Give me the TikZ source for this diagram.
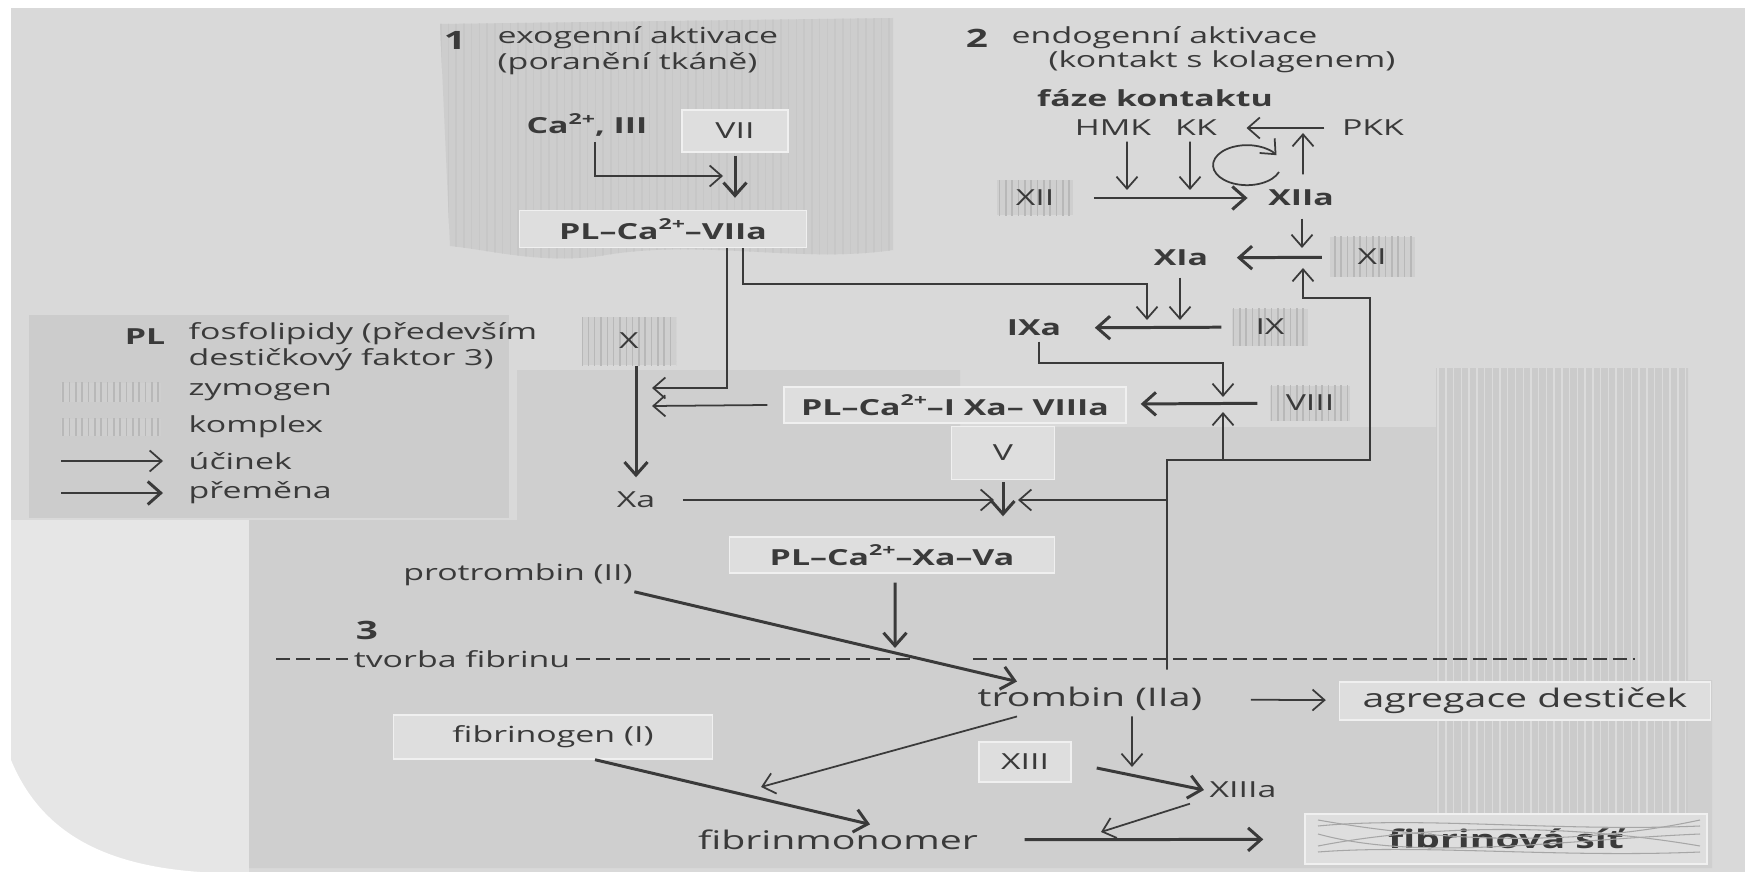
\documentclass[tikz,border=0pt]{standalone}
\usepackage{fontspec}
\setmainfont{Open Sans}[FakeStretch=1.53]
\usetikzlibrary{arrows.meta,patterns.meta}
\definecolor{ink}{HTML}{3A3A3A}
\definecolor{paper}{HTML}{D9D9D9}
\definecolor{paperlt}{HTML}{E6E6E6}
\definecolor{regone}{HTML}{CDCDCD}
\definecolor{regthree}{HTML}{CFCFCF}
\definecolor{regbox}{HTML}{CBCBCB}
\definecolor{legfill}{HTML}{CCCCCC}
\definecolor{zymofill}{HTML}{CFCFCF}
\definecolor{boxfill}{HTML}{DEDEDE}
\newcommand{\supr}[1]{\raisebox{0.42em}{\fontsize{4.3}{4.3}\selectfont #1}}

\begin{document}
\begin{tikzpicture}[x=0.1mm,y=-0.1mm,
  lbl/.style={inner sep=0.5mm,text=ink,font=\fontsize{6.3}{6.3}\selectfont},
  bfont/.style={font=\fontsize{6.3}{6.3}\selectfont\bfseries},
  bigfont/.style={font=\fontsize{7.3}{7.3}\selectfont},
  numlbl/.style={lbl,font=\fontsize{7.2}{7.2}\selectfont\bfseries},
  hatch/.style={postaction={pattern={Lines[angle=90,distance=2.2pt,line width=0.45pt]},pattern color=black!22}},
  zymo/.style={lbl,inner sep=0pt,preaction={fill=zymofill},pattern={Lines[angle=90,distance=1.8pt,line width=0.45pt]},pattern color=black!28},
  lbox/.style={lbl,fill=boxfill,draw=white!55!boxfill,line width=0.4pt,inner sep=0pt},
  effect/.style={draw=ink,line width=0.5pt,-{Straight Barb[length=1.2mm,width=2.1mm]}},
  conv/.style={draw=ink,line width=0.85pt,-{Straight Barb[length=1.3mm,width=2.3mm]}},
  dashline/.style={draw=ink,line width=0.5pt,dash pattern=on 1.4mm off 0.6mm}]
  \useasboundingbox (0,0) rectangle (1756,877);
  % paper and shaded regions (scan background)
  \fill[white] (0,0) rectangle (1756,877);
  \fill[paper] (11,8) rectangle (1745,872);
  \fill[paperlt] (11,520) rectangle (249,872);
  \fill[white] (11,760) .. controls (40,830) and (100,865) .. (200,872) -- (11,872) -- cycle;
  \fill[regthree] (249,868) -- (249,520) -- (517,520) -- (517,370) -- (960,370) -- (960,427)
    -- (1436,427) -- (1436,368) -- (1688,368) -- (1688,680) -- (1712,680) -- (1712,868) -- cycle;
  \fill[regbox,postaction={pattern={Lines[angle=90,distance=2.2pt,line width=0.4pt]},pattern color=black!14}] (1436,368) rectangle (1688,830);
  \fill[regone,hatch] (440,24) -- (893,18) -- (893,250) .. controls (800,264) and (700,238) .. (600,256)
    .. controls (540,264) and (490,250) .. (450,246) -- cycle;
  \fill[legfill] (29,315) rectangle (509,518);

  % 1: exogenni aktivace
  \node[numlbl] (n1) at (455,40) {1};
  \node[lbl,anchor=west,align=left] (exo) at (492,51) {exogenní aktivace\\(poranění tkáně)};
  \node[lbl,bfont] (CaIII) at (587,125) {Ca\supr{2+}, III};
  \node[lbox,minimum width=10.6mm,minimum height=4.2mm] (VII) at (735,131) {VII};
  \node[lbox,bfont,minimum width=28.7mm,minimum height=3.7mm] (VIIa) at (663,229) {PL–Ca\supr{2+}–VIIa};
  \coordinate (jCa) at (735,176);
  \draw[effect,shorten >=1.2mm] ([xshift=0.8mm]CaIII.south) |- (jCa);
  \draw[conv,shorten <=0.3mm,shorten >=1.2mm] (VII.south) -- (VII.south |- VIIa.north);

  % 2: endogenni aktivace, faze kontaktu
  \node[numlbl] (n2) at (977,38) {2};
  \node[lbl,anchor=west] (endo) at (1006,38) {endogenní aktivace};
  \node[lbl,anchor=west] (endoB) at (1043,62) {(kontakt s kolagenem)};
  \node[lbl,bfont] (faze) at (1155,98) {fáze kontaktu};
  \node[lbl] (HMK) at (1113,128) {HMK};
  \node[lbl] (KK) at (1196,128) {KK};
  \node[lbl] (PKK) at (1373,128) {PKK};
  \node[zymo,minimum width=7.6mm,minimum height=3.5mm] (XII) at (1035,198) {XII};
  \node[lbl,bfont] (XIIa) at (1301,198) {XIIa};
  \node[lbl,bfont] (XIa) at (1181,258) {XIa};
  \node[zymo,minimum width=8.5mm,minimum height=4mm] (XI) at (1372,257) {XI};
  \node[lbl,bfont] (IXa) at (1034,328) {IXa};
  \node[zymo,minimum width=7.6mm,minimum height=3.7mm] (IX) at (1270,327) {IX};
  \node[zymo,minimum width=8mm,minimum height=3.5mm] (VIII) at (1310,403) {VIII};
  \node[lbox,bfont,minimum width=34.2mm,minimum height=3.6mm] (IXaVIIIa) at (955,405) {PL–Ca\supr{2+}–I Xa– VIIIa};

  \coordinate (jHMK) at (1127,190);
  \coordinate (jKK) at (1190,190);
  \coordinate (jPKK) at (1303,133);
  \coordinate (cycS) at (1279,172); % start of the self-loop round KK
  \draw[effect,shorten <=1.2mm,shorten >=2.4mm] (PKK) -- (KK);
  \draw[effect] ([xshift=1.4mm]HMK.south) -- (jHMK);
  \draw[effect] ([xshift=-0.6mm]KK.south) -- (jKK);
  \draw[effect,shorten <=1mm] ([xshift=0.2mm]XIIa.north) -- (jPKK);
  \draw[effect] (cycS) arc[start angle=20,end angle=330,x radius=34,y radius=20];
  \draw[conv,shorten <=2mm,shorten >=1.5mm] (XII) -- (XIIa);

  \coordinate (jXI) at (1302,248);
  \coordinate (jIX2) at (1180,320);
  \coordinate (jVIII) at (1223,397);
  \draw[effect,shorten <=0.7mm] ([xshift=0.1mm]XIIa.south) -- (jXI);
  \draw[conv,shorten <=0.7mm,shorten >=2.3mm] (XI) -- (XIa);
  \draw[effect,shorten <=0.6mm] ([xshift=-0.1mm]XIa.south) -- (jIX2);
  \draw[conv,shorten <=1mm,shorten >=2.8mm] (IX) -- (IXa);
  \draw[effect] ([xshift=0.5mm]IXa.south) -- ++(0,21) -| (jVIII);
  \draw[conv,shorten <=1.2mm,shorten >=1.4mm] (VIII) -- (IXaVIIIa);

  % VIIa -> X and IX
  \coordinate (jX1) at (652,388);
  \coordinate (jX2) at (652,406);
  \coordinate (jIX1) at (1147,320);
  \draw[effect] ([xshift=6.4mm]VIIa.south) |- (jX1);
  \draw[effect] ([xshift=8mm]VIIa.south) -- ++(0,36) -| (jIX1);
  \draw[effect] ([xshift=-1.6mm]IXaVIIIa.west) -- (jX2);

  % X, V, protrombinasa
  \node[zymo,minimum width=9.4mm,minimum height=4.8mm] (X) at (629,341) {X};
  \node[lbl] (Xa) at (636,500) {Xa};
  \node[lbox,minimum width=10.3mm,minimum height=5.3mm] (V) at (1003,453) {V};
  \node[lbox,bfont,minimum width=32.5mm,minimum height=3.6mm] (XaVa) at (892,555) {PL–Ca\supr{2+}–Xa–Va};
  \coordinate (jVl) at (994,500);
  \coordinate (jPro) at (895,648);
  \draw[conv,shorten >=0.9mm] (X.south -| Xa.north) -- (Xa.north);
  \draw[effect,shorten <=2.2mm] (Xa) -- (jVl);
  \draw[conv,shorten <=0.2mm,shorten >=2mm] (V.south) -- (V.south |- XaVa.north);
  \draw[conv,shorten <=0.9mm] ([xshift=0.3mm]XaVa.south) -- (jPro);

  % 3: tvorba fibrinu
  \node[lbl] (protr) at (518,575) {protrombin (II)};
  \node[numlbl] (n3) at (367,630) {3};
  \node[lbl] (tvorba) at (462,659) {tvorba fibrinu};
  \node[lbl,bigfont] (trombin) at (1090,699) {trombin (IIa)};
  \node[lbox,bigfont,minimum width=37.1mm,minimum height=3.8mm] (agreg) at (1525,701) {agregace destiček};
  \node[lbox,minimum width=31.9mm,minimum height=4.4mm] (fbgen) at (553,737) {fibrinogen (I)};
  \node[lbox,minimum width=9.2mm,minimum height=4mm] (XIII) at (1025,762) {XIII};
  \node[lbl] (XIIIa) at (1243,790) {XIIIa};
  \node[lbl,bigfont] (fmono) at (838,840) {fibrinmonomer};
  \node[lbox,bigfont,font=\fontsize{7.3}{7.3}\selectfont\bfseries,minimum width=40.2mm,minimum height=5mm] (sit) at (1506,839) {fibrinová síť};
  % fibrous net over the last box
  \foreach \ya/\yb/\yc in {826/816/832, 852/844/858, 834/862/840, 820/838/850, 846/826/822}{
    \draw[ink!45,line width=0.3pt] (1318,\ya) .. controls (1420,\yb) and (1560,\yc) .. (1700,\ya);
  }

  \coordinate (dashL) at (276,659);
  \coordinate (dashM) at (910,659);
  \coordinate (dashN) at (973,659);
  \coordinate (dashR) at (1635,659);
  \draw[dashline] (dashL) -- (tvorba.west);
  \draw[dashline] (tvorba.east) -- (dashM);
  \draw[dashline] (dashN) -- (dashR);

  \coordinate (jXIII) at (1132,767);
  \coordinate (jFm) at (761,787);
  \coordinate (jSit) at (1101,832);
  \draw[conv] ([xshift=-0.4mm]protr.south east) -- ([xshift=-7.3mm]trombin.north);
  \draw[effect,shorten <=4.3mm,shorten >=1.3mm] (trombin) -- (agreg);
  \draw[effect] ([xshift=4.2mm]trombin.south) -- (jXIII);
  \draw[effect] ([xshift=-7.3mm]trombin.south) -- (jFm);
  \draw[conv] ([xshift=4.2mm]fbgen.south) -- ([xshift=3.2mm]fmono.north);
  \draw[conv] ([shift={(2.5mm,-0.6mm)}]XIII.east) -- (XIIIa.west);
  \draw[effect] ([xshift=-1.4mm]XIIIa.south west) -- (jSit);
  \draw[conv,shorten <=4.1mm,shorten >=4.1mm] (fmono) -- (sit);

  % zpetna vazba trombinu (XI, VIII, V)
  \coordinate (fbA) at (1167,460);
  \coordinate (fbB) at (1370,460);
  \coordinate (fbC) at (1370,298);
  \coordinate (fbD) at (1303,298);
  \coordinate (jXIu) at (1303,268);
  \coordinate (fbE) at (1223,460);
  \coordinate (jVIIIu) at (1223,412);
  \coordinate (fbF) at (1167,500);
  \coordinate (jVr) at (1018,500);
  \draw[effect] ([xshift=7.7mm,yshift=1.2mm]trombin.north) -- (fbA) -- (fbB) -- (fbC) -- (fbD) -- (jXIu);
  \draw[effect] (fbE) -- (jVIIIu);
  \draw[effect] (fbF) -- (jVr);

  % legenda
  \node[lbl,bfont] (lgPL) at (145,337) {PL};
  \node[lbl,anchor=west,align=left,font=\fontsize{6.3}{6}\selectfont] (lgPLt) at (183,347) {fosfolipidy (především\\destičkový faktor 3)};
  \node[zymo,minimum width=10mm,minimum height=1.9mm] (lgZ) at (111,392) {};
  \node[zymo,minimum width=10mm,minimum height=1.7mm] (lgK) at (111,427) {};
  \foreach \ly/\lname/\ltext in {392/lgZt/zymogen, 427/lgKt/komplex, 461/lgEt/účinek, 493/lgCt/přeměna}{
    \node[lbl,anchor=west] (\lname) at (183,\ly) {\ltext};
  }
  \coordinate (lgE) at (61,461);
  \coordinate (lgC) at (61,493);
  \draw[effect,shorten >=2mm] (lgE) -- (lgE -| lgEt.west);
  \draw[conv,shorten >=2mm] (lgC) -- (lgC -| lgCt.west);
\end{tikzpicture}
\end{document}
